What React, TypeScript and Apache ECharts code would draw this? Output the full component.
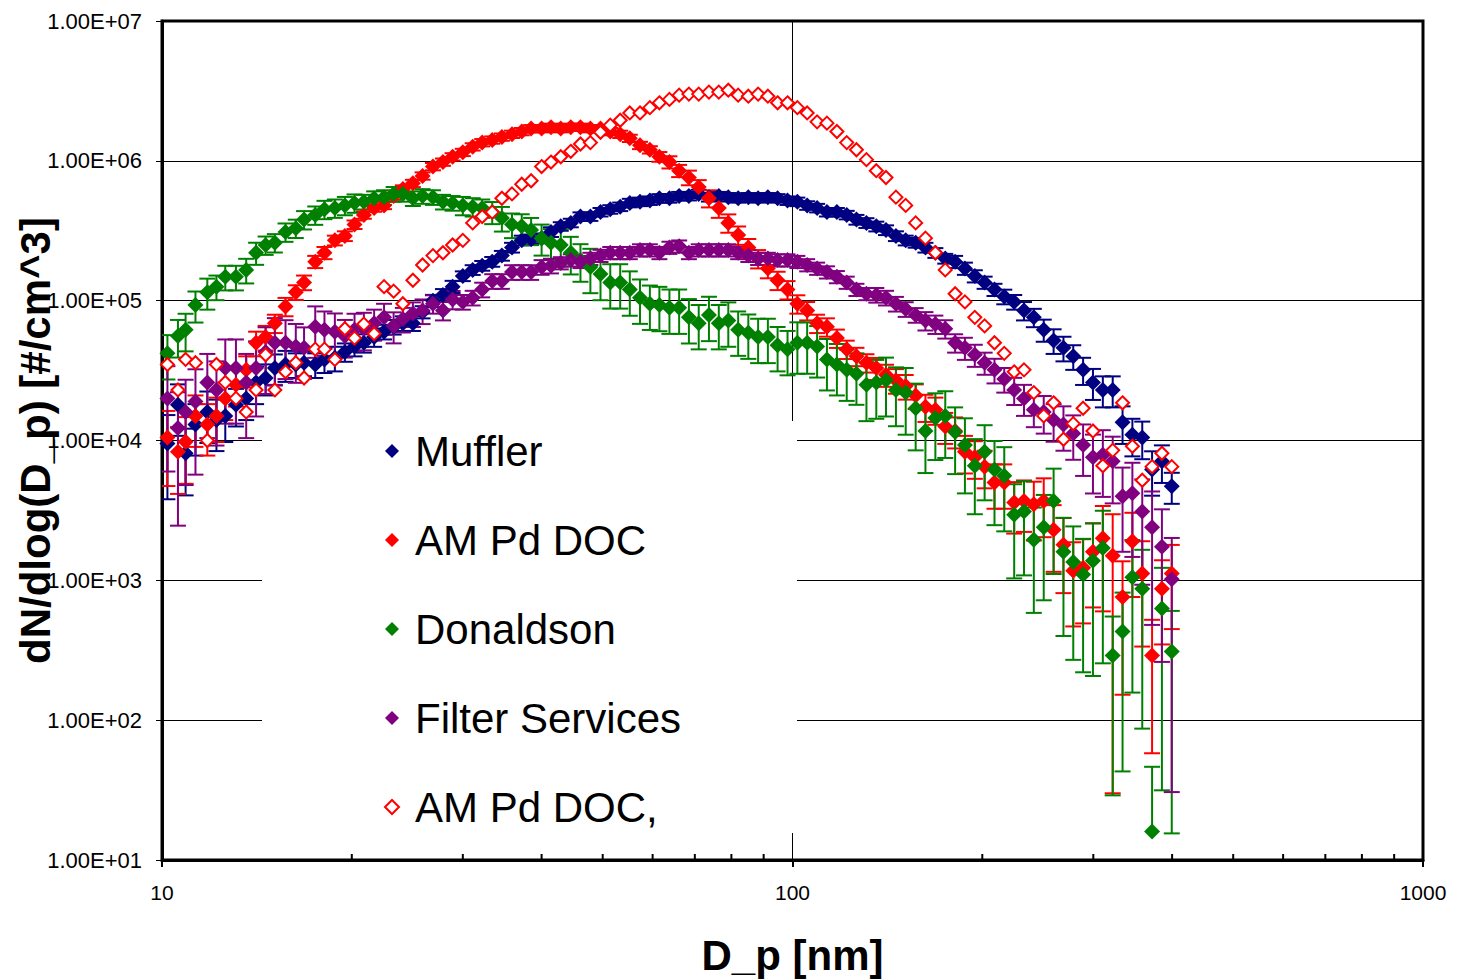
import React, { useEffect, useRef } from 'react';
import * as echarts from 'echarts';

// Particle diameters (nm), SMPS channel midpoints
const diameters = [
  10.2, 10.6, 10.9, 11.3, 11.8, 12.2, 12.6, 13.1, 13.6, 14.1,
  14.6, 15.1, 15.7, 16.3, 16.8, 17.5, 18.1, 18.8, 19.5, 20.2,
  20.9, 21.7, 22.5, 23.3, 24.1, 25.0, 25.9, 26.9, 27.9, 28.9,
  30.0, 31.1, 32.2, 33.4, 34.6, 35.9, 37.2, 38.5, 40.0, 41.4,
  42.9, 44.5, 46.1, 47.8, 49.6, 51.4, 53.3, 55.2, 57.3, 59.4,
  61.5, 63.8, 66.1, 68.5, 71.0, 73.7, 76.4, 79.1, 82.0, 85.1,
  88.2, 91.4, 94.7, 98.2, 101.8, 105.5, 109.4, 113.4, 117.6, 121.9,
  126.3, 131.0, 135.8, 140.7, 145.9, 151.2, 156.8, 162.5, 168.5, 174.7,
  181.1, 187.7, 194.6, 201.7, 209.1, 216.7, 224.7, 232.9, 241.4, 250.3,
  259.5, 269.0, 278.8, 289.0, 299.6, 310.6, 322.0, 333.8, 346.0, 358.7,
  371.8, 385.4, 399.5,
];

const muffler = [
  9.5e3, 1.8e4, 8.1e3, 1.3e4, 1.6e4, 1.4e4, 1.5e4, 1.8e4, 2.0e4, 2.6e4,
  2.8e4, 3.3e4, 3.5e4, 3.5e4, 3.6e4, 3.5e4, 3.8e4, 3.9e4, 4.3e4, 4.7e4,
  5.0e4, 5.5e4, 6.0e4, 6.5e4, 6.9e4, 6.9e4, 8.3e4, 1.0e5, 1.1e5, 1.26e5,
  1.5e5, 1.66e5, 1.78e5, 1.9e5, 2.1e5, 2.4e5, 2.7e5, 2.75e5, 2.8e5, 3.1e5,
  3.4e5, 3.6e5, 4.0e5, 4.0e5, 4.3e5, 4.5e5, 4.7e5, 5.0e5, 5.1e5, 5.2e5,
  5.4e5, 5.4e5, 5.6e5, 5.6e5, 5.8e5, 5.5e5, 5.6e5, 5.5e5, 5.4e5, 5.5e5,
  5.4e5, 5.5e5, 5.4e5, 5.2e5, 5.1e5, 4.8e5, 4.6e5, 4.3e5, 4.3e5, 4.1e5,
  3.8e5, 3.6e5, 3.4e5, 3.2e5, 2.9e5, 2.7e5, 2.6e5, 2.4e5, 2.2e5, 2.0e5,
  1.9e5, 1.7e5, 1.5e5, 1.35e5, 1.2e5, 1.07e5, 9.8e4, 8.5e4, 7.6e4, 6.2e4,
  5.2e4, 4.6e4, 4.0e4, 3.2e4, 2.6e4, 2.3e4, 2.3e4, 1.35e4, 1.1e4, 1.05e4,
  6.2e3, 7.1e3, 4.7e3,
];
const mufflerErr = [
  0.6, 0.4, 0.5, 0.4, 0.4, 0.4, 0.35, 0.3, 0.3, 0.3,
  0.25, 0.25, 0.25, 0.2, 0.2, 0.2, 0.2, 0.2, 0.15, 0.15,
  0.15, 0.15, 0.12, 0.12, 0.12, 0.12, 0.1, 0.1, 0.1, 0.1,
  0.08, 0.08, 0.08, 0.08, 0.08, 0.08, 0.08, 0.08, 0.08, 0.08,
  0.07, 0.07, 0.07, 0.07, 0.07, 0.07, 0.07, 0.07, 0.07, 0.07,
  0.07, 0.07, 0.07, 0.07, 0.07, 0.07, 0.07, 0.07, 0.07, 0.07,
  0.07, 0.07, 0.07, 0.07, 0.07, 0.07, 0.07, 0.07, 0.07, 0.07,
  0.08, 0.08, 0.08, 0.08, 0.08, 0.08, 0.08, 0.08, 0.08, 0.08,
  0.1, 0.1, 0.1, 0.1, 0.1, 0.12, 0.12, 0.15, 0.15, 0.18,
  0.2, 0.2, 0.2, 0.22, 0.25, 0.25, 0.25, 0.3, 0.3, 0.3,
  0.35, 0.3, 0.25,
];

const amPdDoc = [
  1.05e4, 8.3e3, 9.8e3, 1.5e4, 1.3e4, 1.5e4, 2.0e4, 2.5e4, 3.2e4, 5.0e4,
  5.5e4, 6.9e4, 9.1e4, 1.15e5, 1.35e5, 1.9e5, 2.2e5, 2.7e5, 2.9e5, 3.5e5,
  4.1e5, 4.6e5, 4.8e5, 5.6e5, 6.3e5, 6.9e5, 7.8e5, 9.1e5, 9.8e5, 1.07e6,
  1.15e6, 1.26e6, 1.35e6, 1.41e6, 1.48e6, 1.55e6, 1.62e6, 1.7e6, 1.7e6, 1.74e6,
  1.7e6, 1.74e6, 1.74e6, 1.7e6, 1.7e6, 1.62e6, 1.55e6, 1.45e6, 1.29e6, 1.2e6,
  1.07e6, 9.8e5, 8.5e5, 7.6e5, 6.5e5, 5.4e5, 4.6e5, 3.6e5, 2.95e5, 2.4e5,
  2.0e5, 1.7e5, 1.4e5, 1.2e5, 9.5e4, 8.5e4, 6.9e4, 6.5e4, 5.4e4, 4.5e4,
  4.0e4, 3.6e4, 3.3e4, 2.95e4, 2.7e4, 2.45e4, 2.1e4, 1.74e4, 1.66e4, 1.26e4,
  1.17e4, 8.3e3, 7.6e3, 6.5e3, 5.0e3, 5.0e3, 3.6e3, 3.7e3, 3.5e3, 3.7e3,
  2.3e3, 1.8e3, 1.17e3, 1.23e3, 1.6e3, 2.0e3, 1.5e3, 760, 1.9e3, 1.12e3,
  290, 870, 1.12e3,
];
const amPdDocErr = [
  0.55, 0.5, 0.5, 0.4, 0.4, 0.35, 0.3, 0.3, 0.25, 0.2,
  0.2, 0.15, 0.15, 0.12, 0.12, 0.1, 0.1, 0.08, 0.08, 0.07,
  0.06, 0.06, 0.06, 0.06, 0.06, 0.06, 0.06, 0.06, 0.06, 0.06,
  0.06, 0.06, 0.06, 0.06, 0.06, 0.06, 0.06, 0.06, 0.06, 0.06,
  0.06, 0.06, 0.06, 0.06, 0.06, 0.06, 0.06, 0.06, 0.06, 0.06,
  0.08, 0.1, 0.1, 0.12, 0.12, 0.14, 0.15, 0.15, 0.15, 0.15,
  0.15, 0.15, 0.15, 0.15, 0.15, 0.15, 0.15, 0.15, 0.15, 0.15,
  0.15, 0.15, 0.18, 0.18, 0.2, 0.2, 0.2, 0.22, 0.22, 0.25,
  0.25, 0.3, 0.3, 0.3, 0.35, 0.35, 0.4, 0.4, 0.45, 0.45,
  0.5, 0.55, 0.6, 0.6, 0.6, 0.7, 0.98, 0.8, 0.6, 0.7,
  0.8, 0.6, 0.6,
];

const donaldson = [
  4.2e4, 5.6e4, 6.2e4, 9.3e4, 1.15e5, 1.26e5, 1.48e5, 1.48e5, 1.66e5, 2.2e5,
  2.5e5, 2.6e5, 3.1e5, 3.3e5, 3.8e5, 4.1e5, 4.5e5, 4.6e5, 4.8e5, 5.0e5,
  5.1e5, 5.4e5, 5.5e5, 5.8e5, 5.8e5, 5.4e5, 5.6e5, 5.5e5, 5.1e5, 5.0e5,
  4.8e5, 4.7e5, 4.6e5, 4.3e5, 3.9e5, 3.5e5, 3.4e5, 3.2e5, 2.8e5, 2.6e5,
  2.5e5, 2.2e5, 1.95e5, 1.74e5, 1.55e5, 1.35e5, 1.35e5, 1.2e5, 1.05e5, 9.5e4,
  9.3e4, 8.9e4, 8.9e4, 7.6e4, 6.9e4, 7.9e4, 6.9e4, 7.2e4, 6.2e4, 5.9e4,
  5.5e4, 5.5e4, 4.8e4, 4.5e4, 5.0e4, 5.0e4, 4.7e4, 3.8e4, 3.5e4, 3.2e4,
  3.0e4, 2.5e4, 2.6e4, 2.7e4, 2.3e4, 2.2e4, 1.7e4, 1.17e4, 1.45e4, 1.5e4,
  1.15e4, 9.3e3, 6.6e3, 8.3e3, 6.2e3, 5.6e3, 2.95e3, 3.1e3, 1.95e3, 2.4e3,
  3.7e3, 1.6e3, 1.35e3, 1.1e3, 1.38e3, 1.7e3, 290, 430, 1.05e3, 870,
  16, 630, 310,
];
const donaldsonErr = [
  0.35, 0.3, 0.3, 0.25, 0.25, 0.2, 0.2, 0.2, 0.2, 0.18,
  0.15, 0.15, 0.15, 0.15, 0.15, 0.15, 0.15, 0.15, 0.15, 0.15,
  0.12, 0.12, 0.12, 0.12, 0.12, 0.12, 0.12, 0.12, 0.12, 0.12,
  0.15, 0.15, 0.15, 0.18, 0.2, 0.2, 0.22, 0.22, 0.25, 0.25,
  0.3, 0.3, 0.3, 0.35, 0.35, 0.35, 0.35, 0.35, 0.35, 0.35,
  0.35, 0.35, 0.35, 0.35, 0.35, 0.35, 0.35, 0.35, 0.35, 0.35,
  0.35, 0.35, 0.35, 0.35, 0.4, 0.4, 0.4, 0.4, 0.4, 0.4,
  0.4, 0.45, 0.45, 0.45, 0.45, 0.5, 0.5, 0.5, 0.5, 0.5,
  0.5, 0.55, 0.55, 0.55, 0.6, 0.6, 0.65, 0.65, 0.7, 0.7,
  0.7, 0.75, 0.8, 0.8, 0.85, 0.85, 0.9, 0.9, 0.85, 0.9,
  1.9, 0.95, 0.95,
];

const filterServices = [
  2.0e4, 1.23e4, 1.6e4, 1.9e4, 2.6e4, 2.3e4, 3.3e4, 3.3e4, 2.6e4, 3.3e4,
  4.3e4, 5.0e4, 5.0e4, 4.7e4, 4.6e4, 6.5e4, 6.2e4, 6.0e4, 5.6e4, 6.2e4,
  6.3e4, 6.9e4, 7.6e4, 6.6e4, 7.4e4, 8.1e4, 8.5e4, 9.5e4, 8.5e4, 1.02e5,
  9.8e4, 1.05e5, 1.2e5, 1.38e5, 1.38e5, 1.6e5, 1.6e5, 1.6e5, 1.74e5, 1.78e5,
  1.86e5, 1.95e5, 1.9e5, 2.0e5, 2.1e5, 2.2e5, 2.2e5, 2.2e5, 2.3e5, 2.3e5,
  2.2e5, 2.4e5, 2.45e5, 2.2e5, 2.3e5, 2.3e5, 2.3e5, 2.3e5, 2.2e5, 2.1e5,
  2.0e5, 2.0e5, 1.95e5, 1.95e5, 1.9e5, 1.8e5, 1.7e5, 1.6e5, 1.48e5, 1.35e5,
  1.2e5, 1.12e5, 1.1e5, 1.05e5, 9.5e4, 8.7e4, 7.9e4, 7.2e4, 6.8e4, 6.3e4,
  5.0e4, 4.6e4, 4.1e4, 3.6e4, 3.2e4, 2.75e4, 2.3e4, 2.0e4, 1.66e4, 1.6e4,
  1.4e4, 1.3e4, 1.12e4, 9.3e3, 7.6e3, 7.9e3, 7.1e3, 4.0e3, 4.2e3, 3.1e3,
  2.4e3, 1.74e3, 1.02e3,
];
const filterServicesErr = [
  0.7, 0.8, 0.7, 0.7, 0.6, 0.6, 0.6, 0.6, 0.6, 0.55,
  0.5, 0.5, 0.45, 0.45, 0.4, 0.4, 0.35, 0.35, 0.3, 0.3,
  0.3, 0.25, 0.25, 0.25, 0.2, 0.2, 0.2, 0.15, 0.15, 0.15,
  0.12, 0.12, 0.12, 0.12, 0.12, 0.12, 0.12, 0.12, 0.12, 0.12,
  0.1, 0.1, 0.1, 0.1, 0.1, 0.1, 0.1, 0.1, 0.1, 0.1,
  0.1, 0.1, 0.1, 0.1, 0.1, 0.1, 0.1, 0.1, 0.1, 0.1,
  0.1, 0.1, 0.1, 0.1, 0.1, 0.1, 0.1, 0.1, 0.1, 0.1,
  0.1, 0.1, 0.12, 0.12, 0.12, 0.12, 0.12, 0.15, 0.15, 0.15,
  0.15, 0.18, 0.18, 0.18, 0.2, 0.2, 0.22, 0.25, 0.25, 0.3,
  0.3, 0.35, 0.35, 0.4, 0.45, 0.5, 0.5, 0.6, 0.65, 0.7,
  0.8, 0.85, 0.97,
];

const amPdDocOpen = [
  3.5e4, 2.3e4, 3.8e4, 3.6e4, 1.0e4, 3.5e4, 2.6e4, 2.0e4, 1.6e4, 2.3e4,
  4.1e4, 2.3e4, 3.1e4, 3.6e4, 2.8e4, 4.5e4, 4.5e4, 3.8e4, 6.3e4, 5.4e4,
  6.8e4, 5.8e4, 1.26e5, 1.17e5, 9.5e4, 1.4e5, 1.8e5, 2.1e5, 2.2e5, 2.5e5,
  2.7e5, 3.6e5, 4.0e5, 4.3e5, 5.4e5, 5.8e5, 6.8e5, 7.2e5, 9.1e5, 9.8e5,
  1.07e6, 1.17e6, 1.32e6, 1.35e6, 1.6e6, 1.8e6, 1.95e6, 2.2e6, 2.2e6, 2.4e6,
  2.6e6, 2.75e6, 2.95e6, 3.0e6, 3.0e6, 3.1e6, 3.1e6, 3.2e6, 2.95e6, 2.9e6,
  3.0e6, 2.9e6, 2.6e6, 2.6e6, 2.4e6, 2.2e6, 1.9e6, 1.86e6, 1.62e6, 1.35e6,
  1.2e6, 1.02e6, 8.5e5, 7.6e5, 5.5e5, 4.8e5, 3.6e5, 2.8e5, 2.2e5, 1.66e5,
  1.12e5, 9.8e4, 7.6e4, 6.6e4, 5.0e4, 4.2e4, 3.1e4, 3.2e4, 2.2e4, 1.5e4,
  1.86e4, 1.02e4, 1.32e4, 1.7e4, 1.17e4, 6.6e3, 8.5e3, 1.86e4, 9.1e3, 5.2e3,
  6.5e3, 8.1e3, 6.5e3,
];

const seriesNames = ['Muffler', 'AM Pd DOC', 'Donaldson', 'Filter Services', 'AM Pd DOC,'];
const minorTickValues = [20, 30, 40, 50, 60, 70, 80, 90, 200, 300, 400, 500, 600, 700, 800, 900];
const X_MIN = 10;
const X_MAX = 1000;
const Y_MIN = 10;
const Y_MAX = 1e7;

const FONT = '"Liberation Sans", Arial, Helvetica, sans-serif';

function errorBarSeries(name: string, color: string, vals: number[], errs: number[]) {
  return {
    type: 'custom',
    name: name + ' error',
    silent: true,
    clip: true,
    data: diameters.map((d, i) => [d, vals[i], vals[i] * (1 - errs[i]), vals[i] * (1 + errs[i])]),
    encode: { x: 0, y: 1 },
    renderItem: (params: any, api: any) => {
      const x = api.value(0);
      const v = api.value(1);
      const lo = api.value(2);
      const hi = api.value(3);
      const pV = api.coord([x, v]);
      const pHi = api.coord([x, hi]);
      const hw = 8;
      const st = { stroke: color, lineWidth: 2 };
      const children: any[] = [
        { type: 'line', shape: { x1: pV[0], y1: pV[1], x2: pHi[0], y2: pHi[1] }, style: st },
        { type: 'line', shape: { x1: pHi[0] - hw, y1: pHi[1], x2: pHi[0] + hw, y2: pHi[1] }, style: st },
      ];
      if (lo > 0) {
        const pLo = api.coord([x, lo]);
        children.push({ type: 'line', shape: { x1: pV[0], y1: pV[1], x2: pLo[0], y2: pLo[1] }, style: st });
        children.push({ type: 'line', shape: { x1: pLo[0] - hw, y1: pLo[1], x2: pLo[0] + hw, y2: pLo[1] }, style: st });
      }
      return { type: 'group', children };
    },
  };
}

function scatterSeries(name: string, vals: number[], itemStyle: any, size: number) {
  return {
    type: 'scatter',
    name,
    symbol: 'diamond',
    symbolSize: size,
    data: diameters.map((d, i) => [d, vals[i]]),
    itemStyle: { opacity: 1, ...itemStyle },
  };
}

export default function App() {
  const ref = useRef<HTMLDivElement>(null);
  useEffect(() => {
    if (!ref.current) return;
    const chart = echarts.init(ref.current, undefined, { renderer: 'svg' });
    const option: any = {
      animation: false,
      backgroundColor: '#ffffff',
      grid: {
        left: 162, right: 34, top: 21, bottom: 120,
        outerBoundsMode: 'none', containLabel: false,
        show: true, borderColor: '#000', borderWidth: 3, backgroundColor: '#fff',
      },
      xAxis: {
        type: 'log', logBase: 10, min: X_MIN, max: X_MAX, splitNumber: 2,
        axisLine: { show: true, lineStyle: { color: '#000', width: 3 } },
        axisTick: { show: true, inside: false, length: 7, lineStyle: { color: '#000', width: 2 } },
        axisLabel: {
          fontSize: 21, color: '#000', fontFamily: FONT, margin: 22,
          formatter: (v: number) => String(Math.round(v)),
        },
        splitLine: { show: true, lineStyle: { color: '#000', width: 1 } },
        name: 'D_p [nm]', nameLocation: 'middle', nameGap: 74, nameMoveOverlap: false,
        nameTextStyle: { fontSize: 42, fontWeight: 'bold', fontFamily: FONT, color: '#000' },
      },
      yAxis: {
        type: 'log', logBase: 10, min: Y_MIN, max: Y_MAX, splitNumber: 6,
        axisLine: { show: true, lineStyle: { color: '#000', width: 3 } },
        axisTick: { show: true, inside: false, length: 6, lineStyle: { color: '#000', width: 1 } },
        axisLabel: {
          fontSize: 22, color: '#000', fontFamily: FONT, margin: 20,
          formatter: (v: number) => {
            const e = Math.round(Math.log10(v));
            return '1.00E+' + (e < 10 ? '0' : '') + e;
          },
        },
        splitLine: { show: true, lineStyle: { color: '#000', width: 1 } },
        name: 'dN/dlog(D_p) [#/cm^3]', nameLocation: 'middle', nameGap: 106, nameMoveOverlap: false,
        nameTextStyle: { fontSize: 42, fontWeight: 'bold', fontFamily: FONT, color: '#000' },
      },
      legend: {
        data: seriesNames,
        orient: 'vertical',
        left: 379, top: 424,
        itemWidth: 14, itemHeight: 14, itemGap: 45,
        textStyle: { fontSize: 42, fontFamily: FONT, color: '#000', lineHeight: 44, padding: [0, 0, 0, 11] },
      },
      graphic: {
        elements: [
          { type: 'rect', z: 1, silent: true, shape: { x: 262, y: 421, width: 535, height: 412 }, style: { fill: '#fff' } },
        ],
      },
      series: [
        {
          type: 'custom', name: 'minor ticks', silent: true, clip: false,
          data: minorTickValues.map((v) => [v, Y_MIN]),
          encode: { x: 0, y: 1 },
          renderItem: (params: any, api: any) => {
            const p = api.coord([api.value(0), api.value(1)]);
            return { type: 'line', shape: { x1: p[0], y1: p[1], x2: p[0], y2: p[1] - 6 }, style: { stroke: '#000', lineWidth: 2 } };
          },
        },
        errorBarSeries('Muffler', '#000080', muffler, mufflerErr),
        scatterSeries('Muffler', muffler, { color: '#000080' }, 16),
        errorBarSeries('AM Pd DOC', '#ff0000', amPdDoc, amPdDocErr),
        scatterSeries('AM Pd DOC', amPdDoc, { color: '#ff0000' }, 16),
        errorBarSeries('Donaldson', '#008000', donaldson, donaldsonErr),
        scatterSeries('Donaldson', donaldson, { color: '#008000' }, 16),
        errorBarSeries('Filter Services', '#800080', filterServices, filterServicesErr),
        scatterSeries('Filter Services', filterServices, { color: '#800080' }, 16),
        scatterSeries('AM Pd DOC,', amPdDocOpen, { color: '#ffffff', borderColor: '#ff0000', borderWidth: 2 }, 13),
      ],
    };
    chart.setOption(option);
    return () => chart.dispose();
  }, []);
  return (
    <div
      ref={ref}
      style={{ position: 'fixed', left: 0, top: 0, width: 1457, height: 980, background: '#fff' }}
    />
  );
}
